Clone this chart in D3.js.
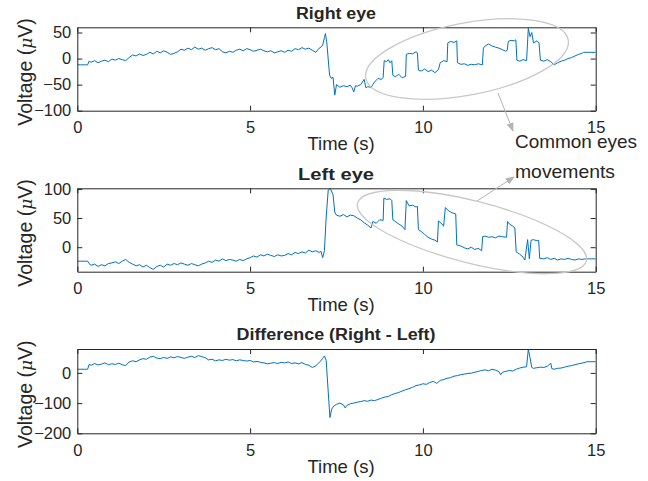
<!DOCTYPE html>
<html>
<head>
<meta charset="utf-8">
<script src="https://cdn.jsdelivr.net/npm/d3@7.9.0/dist/d3.min.js"></script>
<style>
  body { margin: 0; background: #fff; }
  svg text { font-family: "Liberation Sans", Arial, sans-serif; fill: #262626; }
</style>
</head>
<body>
<svg id="chart" width="648" height="481"></svg>
<script>
// ---- data (time in s, voltage in µV) ----
const xTicks = [0, 5, 10, 15];
const rightTicks = [-100, -50, 0, 50];
const leftTicks = [0, 50, 100];
const diffTicks = [-200, -100, 0];

const rightTime = [0, 0.1, 0.2, 0.3, 0.34, 0.4, 0.5, 0.6, 0.7, 0.8, 0.9, 1.0, 1.1, 1.2, 1.3, 1.4, 1.5, 1.6, 1.7, 1.8, 1.9,
  2.0, 2.1, 2.2, 2.3, 2.4, 2.5, 2.6, 2.7, 2.8, 2.9, 3.0, 3.1, 3.2, 3.3, 3.4, 3.5, 3.6, 3.7, 3.8, 3.9,
  4.0, 4.1, 4.2, 4.3, 4.4, 4.5, 4.6, 4.7, 4.8, 4.9, 5.0, 5.1, 5.2, 5.3, 5.4, 5.5, 5.6, 5.7, 5.8, 5.9,
  6.0, 6.1, 6.2, 6.3, 6.4, 6.5, 6.6, 6.7, 6.8, 6.9, 7.0, 7.05, 7.1, 7.15, 7.18, 7.22, 7.3, 7.35, 7.4, 7.45,
  7.5, 7.6, 7.7, 7.8, 7.9, 7.95, 8.0, 8.05, 8.1, 8.2, 8.3, 8.35, 8.4, 8.5, 8.6, 8.7, 8.8, 8.85, 8.88, 8.95,
  9.0, 9.05, 9.1, 9.13, 9.2, 9.3, 9.4, 9.5, 9.52, 9.6, 9.7, 9.8, 9.84, 9.87, 9.95, 10.05, 10.15, 10.25, 10.35, 10.45,
  10.5, 10.6, 10.7, 10.72, 10.8, 10.9, 10.98, 11.0, 11.1, 11.2, 11.3, 11.4, 11.5, 11.6, 11.72, 11.75, 11.8, 11.9,
  12.0, 12.1, 12.2, 12.3, 12.4, 12.44, 12.47, 12.55, 12.65, 12.69, 12.72, 12.8, 12.9, 13.0, 13.05, 13.1, 13.15, 13.2, 13.3, 13.36,
  13.4, 13.5, 13.6, 13.7, 13.8, 13.9, 14.0, 14.1, 14.2, 14.3, 14.4, 14.5, 14.6, 14.65, 14.8, 15.0];
const rightVolt = [-12, -12, -12, -12, -5, -7, -4, -8, -5, -3, -6, -1, -3, 0, -2, -4, 2, 7, 5, 9, 6,
  8, 12, 9, 14, 11, 15, 12, 8, 10, 13, 18, 16, 20, 17, 22, 18, 20, 16, 19, 21,
  17, 19, 13, 11, 14, 12, 16, 18, 15, 19, 17, 14, 16, 18, 15, 13, 15, 11, 13, 15,
  12, 16, 14, 19, 17, 21, 18, 20, 16, 12, 20, 22, 26, 40, 48, 30, -32, -38, -36, -70,
  -50, -55, -52, -54, -51, -56, -64, -52, -53, -50, -40, -56, -54, -55, -45, -38, -40, -36, -4, -6,
  -2, -8, -4, -32, -35, -30, -37, -34, 8, 10, 9, 13, 11, -22, -24, -20, -25, -22, -27, -21,
  -8, -4, -6, 30, 33, 31, 34, -8, -11, -10, -13, -11, -12, -10, -12, 20, 24, 28,
  24, 22, 20, 17, 14, 16, 33, 35, 34, 36, -3, -5, -2, -4, 58, 42, 50, 30, 34, 30,
  -3, -5, -2, -6, -12, -8, -5, -3, 0, 2, 5, 8, 10, 12, 12, 12];

const leftTime = [0, 0.1, 0.2, 0.3, 0.34, 0.4, 0.5, 0.6, 0.7, 0.8, 0.9, 1.0, 1.1, 1.2, 1.3, 1.4, 1.5, 1.6, 1.7, 1.8, 1.9,
  2.0, 2.1, 2.2, 2.3, 2.4, 2.5, 2.6, 2.7, 2.8, 2.9, 3.0, 3.1, 3.2, 3.3, 3.4, 3.5, 3.6, 3.7, 3.8, 3.9,
  4.0, 4.1, 4.2, 4.3, 4.4, 4.5, 4.6, 4.7, 4.8, 4.9, 5.0, 5.1, 5.2, 5.3, 5.4, 5.5, 5.6, 5.7, 5.8, 5.9,
  6.0, 6.1, 6.2, 6.3, 6.4, 6.5, 6.6, 6.7, 6.8, 6.9, 7.0, 7.05, 7.1, 7.15, 7.2, 7.26, 7.32, 7.4, 7.45,
  7.5, 7.6, 7.7, 7.8, 7.9, 8.0, 8.1, 8.2, 8.3, 8.4, 8.5, 8.55, 8.65, 8.75, 8.85, 8.87, 8.95,
  9.05, 9.1, 9.13, 9.2, 9.3, 9.4, 9.48, 9.52, 9.6, 9.7, 9.8, 9.84, 9.87, 9.95, 10.05, 10.15, 10.25, 10.35, 10.42,
  10.45, 10.55, 10.6, 10.65, 10.75, 10.85, 10.95, 10.98, 11.1, 11.2, 11.3, 11.4, 11.5, 11.6, 11.7, 11.73, 11.8, 11.9,
  12.0, 12.1, 12.2, 12.3, 12.42, 12.45, 12.5, 12.6, 12.66, 12.7, 12.8, 12.9, 12.95, 13.03, 13.08, 13.13, 13.2, 13.3, 13.35,
  13.38, 13.5, 13.6, 13.7, 13.8, 13.9, 14.0, 14.1, 14.2, 14.3, 14.4, 14.5, 14.6, 14.7, 14.8, 15.0];
const leftVolt = [-24, -24, -24, -24, -28, -31, -29, -33, -30, -32, -28, -27, -25, -28, -24, -21, -26, -29, -32, -30, -34,
  -31, -35, -38, -33, -31, -34, -29, -31, -28, -30, -27, -29, -31, -28, -30, -32, -29, -27, -24, -26,
  -22, -24, -20, -23, -21, -22, -24, -21, -23, -20, -18, -15, -17, -13, -15, -12, -14, -16, -13, -15,
  -14, -11, -13, -9, -11, -8, -10, -5, -8, -6, -9, -7, -18, -6, 50, 98, 101, 90, 60,
  55, 53, 56, 52, 55, 54, 50, 47, 42, 38, 33, 44, 41, 47, 46, 84, 82,
  83, 80, 47, 44, 40, 36, 30, 80, 71, 72, 69, 70, 30, 27, 22, 17, 14, 12, 9,
  45, 40, 36, 68, 62, 59, 57, 4, 2, -1, -3, 0, -4, -2, -6, 18, 19, 17,
  18, 16, 19, 18, 17, 44, 40, 36, 33, -8, -12, -17, -22, 13, -20, 12, 13, 11, 12,
  -19, -20, -18, -21, -19, -22, -20, -21, -19, -21, -22, -20, -21, -20, -20, -20];

const diffTime = [0, 0.1, 0.2, 0.3, 0.34, 0.4, 0.5, 0.6, 0.7, 0.8, 0.9, 1.0, 1.1, 1.2, 1.3, 1.4, 1.5, 1.6, 1.7, 1.8, 1.9,
  2.0, 2.1, 2.2, 2.3, 2.4, 2.5, 2.6, 2.7, 2.8, 2.9, 3.0, 3.1, 3.2, 3.3, 3.4, 3.5, 3.6, 3.7, 3.8, 3.9,
  4.0, 4.1, 4.2, 4.3, 4.4, 4.5, 4.6, 4.7, 4.8, 4.9, 5.0, 5.1, 5.2, 5.3, 5.4, 5.5, 5.6, 5.7, 5.8, 5.9,
  6.0, 6.1, 6.2, 6.3, 6.4, 6.5, 6.6, 6.7, 6.8, 6.9, 7.0, 7.05, 7.1, 7.15, 7.2, 7.31, 7.36, 7.42,
  7.5, 7.6, 7.7, 7.75, 7.8, 7.9, 8.0, 8.1, 8.2, 8.3, 8.4, 8.5, 8.6, 8.7, 8.8, 8.9,
  9.0, 9.1, 9.2, 9.3, 9.4, 9.5, 9.6, 9.7, 9.8, 9.9, 10.0, 10.1, 10.2, 10.3, 10.4, 10.5, 10.6, 10.7, 10.8, 10.9,
  11.0, 11.1, 11.2, 11.3, 11.4, 11.5, 11.6, 11.7, 11.8, 11.9, 12.0, 12.1, 12.2, 12.25, 12.3, 12.4, 12.5, 12.6, 12.7, 12.8, 12.9,
  13.0, 13.05, 13.1, 13.15, 13.2, 13.3, 13.4, 13.5, 13.6, 13.7, 13.73, 13.8, 13.9,
  14.0, 14.1, 14.2, 14.3, 14.4, 14.5, 14.6, 14.7, 14.75, 14.85, 15.0];
const diffVolt = [12, 12, 12, 12, 28, 25, 31, 26, 29, 33, 27, 30, 28, 32, 27, 24, 36, 40, 37, 43, 47,
  45, 52, 55, 49, 47, 51, 48, 53, 50, 54, 51, 48, 52, 55, 51, 57, 54, 50, 43, 45,
  40, 43, 41, 45, 42, 44, 40, 43, 41, 39, 41, 36, 38, 35, 33, 30, 32, 34, 31, 35,
  33, 36, 31, 33, 30, 34, 28, 25, 18, 23, 35, 40, 48, 56, 42, -148, -120, -110,
  -104, -100, -106, -116, -108, -102, -100, -97, -95, -92, -94, -90, -92, -88, -84, -80,
  -78, -72, -68, -65, -60, -56, -52, -48, -42, -40, -36, -38, -32, -28, -35, -25, -22, -18, -16, -11,
  -9, -6, -4, -2, -1, 2, 5, 8, 10, 7, 12, 9, 4, -6, 2, 5, 8, 6, 12, 16, 19,
  20, 78, 50, 18, 15, 17, 19, 18, 22, 32, 14, 12, 15,
  16, 19, 22, 24, 27, 30, 32, 35, 37, 37, 37];

// ---- layout ----
const svg = d3.select("#chart");
const left = 77.3, right = 595.7;
const lineColor = "#0072bd";

const panels = [
  { title: "Right eye", titleW: 80, time: rightTime, volt: rightVolt, yDomain: [-100, 60], yTicks: rightTicks, top: 27.3, bottom: 110.7 },
  { title: "Left eye", titleW: 76, time: leftTime, volt: leftVolt, yDomain: [-42, 101], yTicks: leftTicks, top: 188.3, bottom: 271.7 },
  { title: "Difference (Right - Left)", titleW: 199, time: diffTime, volt: diffVolt, yDomain: [-200, 79], yTicks: diffTicks, top: 349, bottom: 433.3 }
];

const x = d3.scaleLinear().domain([0, 15]).range([left, right]);

panels.forEach((p, i) => {
  const y = d3.scaleLinear().domain(p.yDomain).range([p.bottom, p.top]);
  const g = svg.append("g");

  g.append("clipPath").attr("id", "clip" + i)
    .append("rect")
    .attr("x", left).attr("y", p.top)
    .attr("width", right - left).attr("height", p.bottom - p.top);

  const pts = p.time.map((t, k) => [t, p.volt[k]]);
  const line = d3.line().x(d => x(d[0])).y(d => y(d[1]));

  g.append("path")
    .attr("d", line(pts))
    .attr("fill", "none")
    .attr("stroke", lineColor)
    .attr("stroke-width", 1)
    .attr("clip-path", `url(#clip${i})`);

  // axes, ticks pointing inward like matlab
  g.append("g")
    .attr("transform", `translate(0,${p.bottom})`)
    .call(d3.axisBottom(x).tickValues(xTicks).tickSize(-5).tickSizeOuter(0).tickPadding(11));
  g.append("g")
    .attr("transform", `translate(0,${p.top})`)
    .call(d3.axisTop(x).tickValues(xTicks).tickSize(-5).tickSizeOuter(0).tickFormat(""));
  g.append("g")
    .attr("transform", `translate(${left},0)`)
    .call(d3.axisLeft(y).tickValues(p.yTicks).tickSize(-5).tickSizeOuter(0).tickPadding(6));
  g.append("g")
    .attr("transform", `translate(${right},0)`)
    .call(d3.axisRight(y).tickValues(p.yTicks).tickSize(-5).tickSizeOuter(0).tickFormat(""));

  g.selectAll(".domain, .tick line").attr("stroke", "#262626").attr("stroke-width", 1);
  g.selectAll(".tick text").attr("font-size", 16.5).attr("fill", "#262626")
    .attr("font-family", "Liberation Sans, Arial, sans-serif");

  // title
  g.append("text")
    .attr("x", 336).attr("y", p.top - 8.7)
    .attr("text-anchor", "middle")
    .attr("font-size", 16).attr("font-weight", "bold")
    .attr("fill", "#000")
    .attr("textLength", p.titleW).attr("lengthAdjust", "spacingAndGlyphs")
    .text(p.title);

  // x label
  g.append("text")
    .attr("x", 341).attr("y", p.bottom + 39.5)
    .attr("text-anchor", "middle")
    .attr("font-size", 18.5)
    .text("Time (s)");

  // y label
  const yl = g.append("text")
    .attr("transform", `translate(32,${(p.top + p.bottom) / 2 + 3}) rotate(-90)`)
    .attr("text-anchor", "middle")
    .attr("font-size", 19.5);
  yl.append("tspan").text("Voltage (");
  yl.append("tspan").attr("font-style", "italic").attr("font-family", "DejaVu Serif, serif").attr("font-size", 17).text("\u03bc");
  yl.append("tspan").text("V)");
});

// ---- annotation: ellipses + arrows ----
const annoColor = "#c8c8c8";
const defs = svg.append("defs");
defs.append("marker")
  .attr("id", "head")
  .attr("viewBox", "0 0 10 10")
  .attr("refX", 9).attr("refY", 5)
  .attr("markerWidth", 9).attr("markerHeight", 9)
  .attr("markerUnits", "userSpaceOnUse")
  .attr("orient", "auto")
  .append("path")
  .attr("d", "M0,1 L10,5 L0,9 Z")
  .attr("fill", "#b4b4b4");

svg.append("ellipse")
  .attr("cx", 467).attr("cy", 59).attr("rx", 103).attr("ry", 36)
  .attr("transform", "rotate(-10.8 467 59)")
  .attr("fill", "none").attr("stroke", annoColor).attr("stroke-width", 1.3);

svg.append("ellipse")
  .attr("cx", 472).attr("cy", 232).attr("rx", 118).attr("ry", 31)
  .attr("transform", "rotate(14.2 472 232)")
  .attr("fill", "none").attr("stroke", annoColor).attr("stroke-width", 1.3);

svg.append("line")
  .attr("x1", 498).attr("y1", 93).attr("x2", 513).attr("y2", 131)
  .attr("stroke", "#b4b4b4").attr("stroke-width", 1)
  .attr("marker-end", "url(#head)");

svg.append("line")
  .attr("x1", 477).attr("y1", 201).attr("x2", 514).attr("y2", 177)
  .attr("stroke", "#b4b4b4").attr("stroke-width", 1)
  .attr("marker-end", "url(#head)");

svg.append("text")
  .attr("x", 515).attr("y", 148)
  .attr("font-size", 19).attr("fill", "#000")
  .attr("font-family", "Liberation Sans Narrow, Lato, sans-serif")
  .attr("textLength", 122).attr("lengthAdjust", "spacingAndGlyphs")
  .text("Common eyes");
svg.append("text")
  .attr("x", 515).attr("y", 177.5)
  .attr("font-size", 19).attr("fill", "#000")
  .attr("font-family", "Liberation Sans Narrow, Lato, sans-serif")
  .attr("textLength", 100).attr("lengthAdjust", "spacingAndGlyphs")
  .text("movements");
</script>
</body>
</html>
